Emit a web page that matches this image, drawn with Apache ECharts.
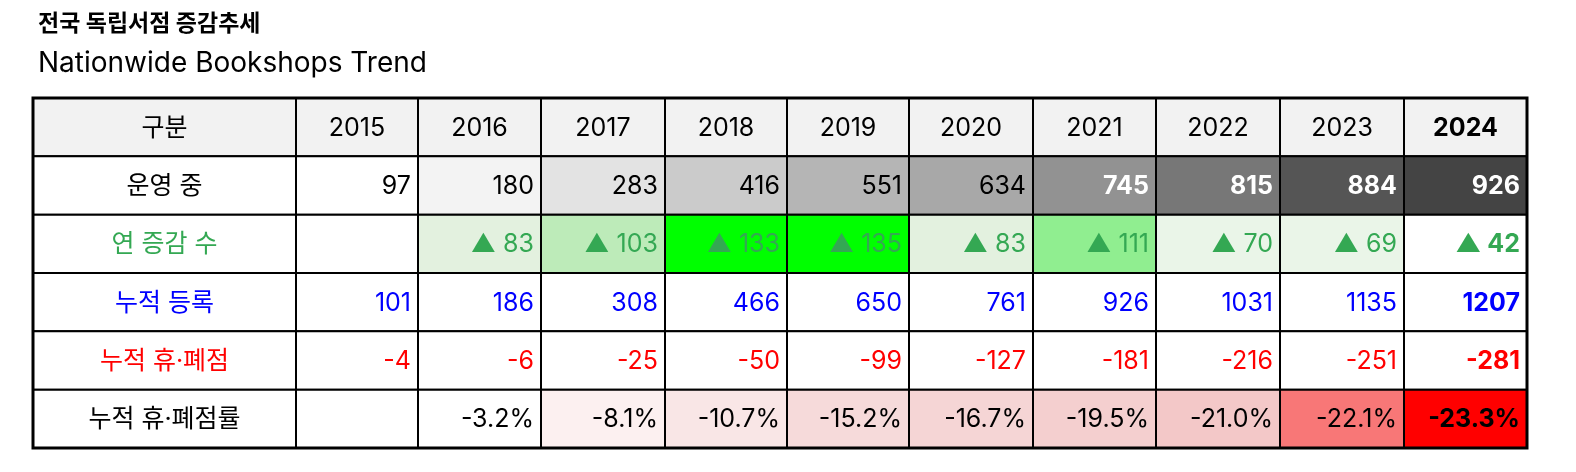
<!doctype html>
<html lang="ko">
<head>
<meta charset="UTF-8">
<title>전국 독립서점 증감추세</title>
<script src="https://cdn.jsdelivr.net/npm/echarts@6/dist/echarts.min.js"></script>
<style>
  html, body { margin: 0; padding: 0; background: #fff; }
  #chart { width: 1576px; height: 472px; }
</style>
</head>
<body>
<div id="chart"></div>
<script>
// 표 데이터
var years = ['2015', '2016', '2017', '2018', '2019', '2020', '2021', '2022', '2023', '2024'];
var rowNames = ['운영 중', '연 증감 수', '누적 등록', '누적 휴·폐점', '누적 휴·폐점률'];
var operating = [97, 180, 283, 416, 551, 634, 745, 815, 884, 926];
var yearChange = [null, 83, 103, 133, 135, 83, 111, 70, 69, 42];
var registered = [101, 186, 308, 466, 650, 761, 926, 1031, 1135, 1207];
var closedCount = [-4, -6, -25, -50, -99, -127, -181, -216, -251, -281];
var closedRate = [null, -3.2, -8.1, -10.7, -15.2, -16.7, -19.5, -21.0, -22.1, -23.3];

// 셀 배경색
var opColors = ['#ffffff', '#f3f3f3', '#e3e3e3', '#cbcbcb', '#b5b5b5', '#a8a8a8', '#929292', '#777777', '#555555', '#444444'];
var changeColors = ['#ffffff', '#e3f1df', '#bdebb9', '#00ff00', '#00ff00', '#e3f1df', '#90ee90', '#eaf5e8', '#eaf5e8', '#ffffff'];
var rateColors = ['#ffffff', '#ffffff', '#fcf0f0', '#f9e6e6', '#f6dada', '#f5d5d5', '#f4cfcf', '#f3c8c8', '#f87777', '#ff0000'];

// 열 경계 (표 안쪽 좌표)
var colEdges = [0, 263, 385, 508, 632, 754, 876, 1000, 1123, 1247, 1371, 1494];
var KFONT = 'Inter, "Noto Sans CJK KR", sans-serif';

var cells = [];
function push(col, row, text, bg, color, align, bold) {
    cells.push({ value: [col, row], text: text, bg: bg, color: color, align: align, bold: bold });
}
push(0, 0, '구분', '#f2f2f2', '#000', 'center', false);
years.forEach(function (y, i) {
    push(i + 1, 0, y, '#f2f2f2', '#000', 'center', i === 9);
});
var labelColors = ['#000', '#34a853', '#0000ff', '#ff0000', '#000'];
rowNames.forEach(function (n, r) {
    push(0, r + 1, n, '#ffffff', labelColors[r], 'center', false);
});
years.forEach(function (y, i) {
    var last = i === 9;
    push(i + 1, 1, String(operating[i]), opColors[i], i >= 6 ? '#ffffff' : '#000', 'right', i >= 6);
    push(i + 1, 2, yearChange[i] == null ? '' : '▲ ' + yearChange[i], changeColors[i], '#34a853', 'right', last);
    push(i + 1, 3, String(registered[i]), '#ffffff', '#0000ff', 'right', last);
    push(i + 1, 4, String(closedCount[i]), '#ffffff', '#ff0000', 'right', last);
    push(i + 1, 5, closedRate[i] == null ? '' : closedRate[i].toFixed(1) + '%', rateColors[i], '#000', 'right', last);
});

var chart = echarts.init(document.getElementById('chart'));
chart.setOption({
    animation: false,
    title: {
        text: '전국 독립서점 증감추세',
        subtext: 'Nationwide Bookshops Trend',
        left: 33, top: 8, itemGap: 14,
        textStyle: { fontFamily: KFONT, fontSize: 23, fontWeight: 'bold', color: '#000' },
        subtextStyle: { fontFamily: KFONT, fontSize: 28, color: '#000' }
    },
    grid: { left: 33, right: 49, top: 98, bottom: 24 },
    xAxis: { type: 'value', min: 0, max: 1494, show: false },
    yAxis: { type: 'value', min: 0, max: 6, inverse: true, show: false },
    series: [{
        type: 'custom',
        data: cells,
        renderItem: function (params, api) {
            var c = cells[params.dataIndex];
            var col = c.value[0], row = c.value[1];
            var p0 = api.coord([colEdges[col], row]);
            var p1 = api.coord([colEdges[col + 1], row + 1]);
            var w = p1[0] - p0[0], h = p1[1] - p0[1];
            var tx = c.align === 'center' ? p0[0] + w / 2 : p1[0] - 7;
            return {
                type: 'group',
                children: [{
                    type: 'rect',
                    shape: { x: p0[0], y: p0[1], width: w, height: h },
                    style: { fill: c.bg, stroke: '#000', lineWidth: 2 }
                }, {
                    type: 'text',
                    style: {
                        x: tx, y: p0[1] + h / 2 + 1, text: c.text,
                        align: c.align, verticalAlign: 'middle',
                        fontFamily: KFONT, fontSize: 25,
                        fontWeight: c.bold ? 'bold' : 'normal', fill: c.color
                    }
                }]
            };
        }
    }],
    graphic: [{
        type: 'rect', z: 100,
        shape: { x: 33, y: 98, width: 1494, height: 350 },
        style: { fill: null, stroke: '#000', lineWidth: 3 }
    }]
});
</script>
</body>
</html>
